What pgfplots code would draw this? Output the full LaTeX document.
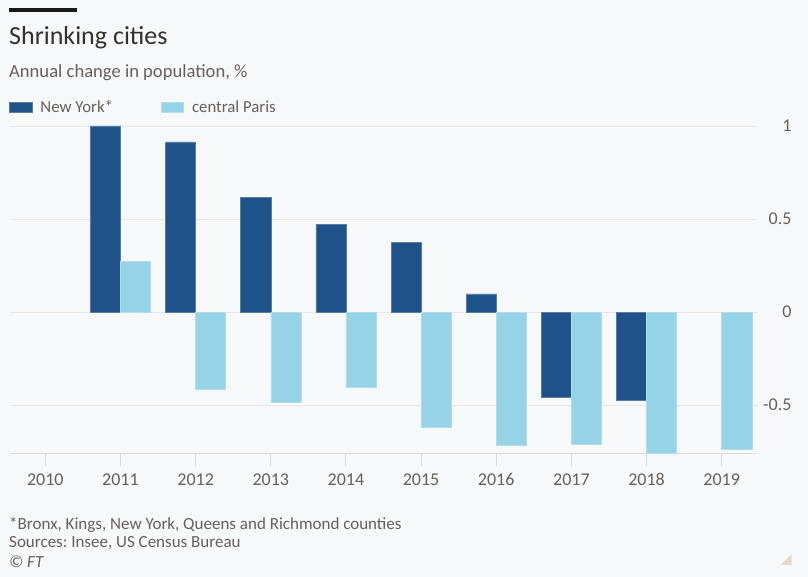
\documentclass[border=0pt]{standalone}
\usepackage{pgfplots}
\pgfplotsset{compat=1.18}
\usepackage{fontspec}
\setmainfont{Carlito}
\frenchspacing
\definecolor{bgcol}{HTML}{F7F8FA}
\definecolor{nyblue}{HTML}{1F5289}
\definecolor{parisblue}{HTML}{96D3E6}
\definecolor{gridcol}{HTML}{EBE6E1}
\definecolor{axiscol}{HTML}{DFD9D3}
\definecolor{greycol}{HTML}{66605C}
\definecolor{titlecol}{HTML}{33302E}
\definecolor{tricol}{HTML}{E6D9CE}
\begin{document}
\begin{tikzpicture}[x=1pt,y=1pt]
\fill[bgcol] (0,0) rectangle (808,577);
\fill[black!90] (9,564.7) rectangle (76.7,568.7);
\node[anchor=base west, inner sep=0pt, text=titlecol, font=\fontsize{26}{30}\selectfont] at (9,532.5) {Shrinking cities};
\node[anchor=base west, inner sep=0pt, text=greycol, font=\fontsize{18.6}{21}\selectfont] at (9,499.3) {Annual change in population, \%};
\begin{axis}[
  at={(10pt,124pt)}, anchor=south west,
  scale only axis, width=747pt, height=327pt,
  xmin=-0.47, xmax=9.47, ymin=-0.758, ymax=1,
  ybar, bar width=0.4,
  clip=false,
  separate axis lines,
  axis x line*=bottom,
  axis y line*=right,
  y axis line style={draw=none},
  x axis line style={draw=axiscol, line width=0.9pt},
  xtick={0,1,2,3,4,5,6,7,8,9},
  xticklabels={2010,2011,2012,2013,2014,2015,2016,2017,2018,2019},
  ytick={-0.5,0,0.5,1},
  yticklabels={-0.5,0,0.5,1},
  ymajorgrids,
  grid style={draw=gridcol, line width=0.9pt},
  major tick length=13pt,
  tick align=outside,
  xtick style={draw=axiscol, line width=0.9pt},
  ytick style={draw=none},
  tick label style={text=greycol, font=\fontsize{18}{20}\selectfont},
  yticklabel style={anchor=east, xshift=25pt},
  xticklabel style={yshift=-4pt},
  legend style={at={(0,1)}, anchor=south west, xshift=-1pt, yshift=12pt,
    draw=none, fill=none, inner sep=0pt, outer sep=0pt,
    font=\fontsize{16.8}{18}\selectfont, text=greycol,
    nodes={inner sep=0pt},
    /tikz/every odd column/.append style={column sep=8.3pt},
    /tikz/every even column/.append style={column sep=47.5pt}},
  legend columns=-1,
  legend image code/.code={\fill[#1] (0pt,-5.3pt) rectangle (22.7pt,5.3pt);},
]
\addplot[fill=nyblue, draw=nyblue!75!white, line width=0.5pt, bar shift=-0.2]
  coordinates {(1,1.0) (2,0.914) (3,0.618) (4,0.473) (5,0.376) (6,0.097) (7,-0.457) (8,-0.477)};
\addlegendentry{New York*}
\addplot[fill=parisblue, draw=parisblue!75!white, line width=0.5pt, bar shift=0.2]
  coordinates {(1,0.274) (2,-0.414) (3,-0.487) (4,-0.405) (5,-0.618) (6,-0.717) (7,-0.710) (8,-0.758) (9,-0.739)};
\addlegendentry{central Paris}
\end{axis}
\node[anchor=base west, inner sep=0pt, text=greycol, font=\fontsize{17}{20}\selectfont] at (9,47) {*Bronx, Kings, New York, Queens and Richmond counties};
\node[anchor=base west, inner sep=0pt, text=greycol, font=\fontsize{17}{20}\selectfont] at (9,29) {Sources: Insee, US Census Bureau};
\node[anchor=base west, inner sep=0pt, text=greycol, font=\fontsize{17}{20}\selectfont\itshape] at (9,9) {© FT};
\fill[tricol] (780.7,12) -- (791.7,12) -- (791.7,23) -- cycle;
\end{tikzpicture}
\end{document}
